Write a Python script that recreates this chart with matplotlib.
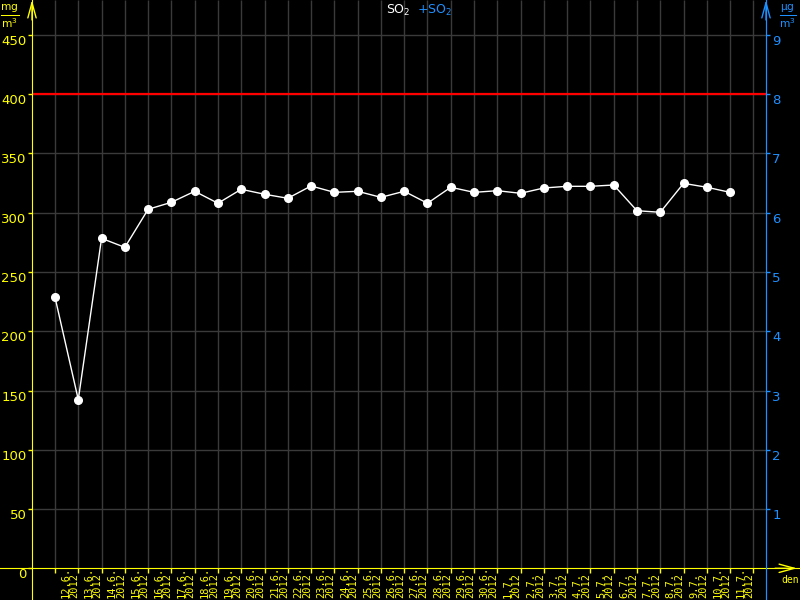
import numpy as np
import matplotlib.pyplot as plt

# data
dates = ["12.6.", "13.6.", "14.6.", "15.6.", "16.6.", "17.6.", "18.6.", "19.6.",
         "20.6.", "21.6.", "22.6.", "23.6.", "24.6.", "25.6.", "26.6.", "27.6.",
         "28.6.", "29.6.", "30.6.", "1.7.", "2.7.", "3.7.", "4.7.", "5.7.",
         "6.7.", "7.7.", "8.7.", "9.7.", "10.7.", "11.7."]
year = "2012"
so2 = [228.7, 142.3, 278.4, 270.8, 302.9, 308.8, 318.1, 308.0, 319.8, 315.6,
       312.2, 322.6, 317.2, 318.1, 313.0, 318.1, 308.0, 321.5, 317.2, 318.6,
       316.4, 320.9, 322.3, 322.3, 323.4, 301.7, 300.4, 324.8, 321.5, 317.2]
limit = 400
left_ticks = list(range(0, 451, 50))
right_ticks = list(range(1, 10))

YEL = "#ffff00"
BLUE = "#1e90ff"
GRID = "#3a3a3a"

# pixel -> data mapping (image 800x600)
x0, xs = 55.0, 23.28      # px of first day, px per day
y0, ys = 568.3, 1.1852    # px of zero, px per unit
def xd(px): return (px - x0) / xs
def yd(py): return (y0 - py) / ys

plt.rcParams["mathtext.default"] = "regular"

fig = plt.figure(figsize=(8, 6), dpi=100, facecolor="black")
ax = fig.add_axes([0, 0, 1, 1], facecolor="black")
ax.set_xlim(xd(0), xd(800))
ax.set_ylim(yd(600), yd(0))

xl, xr = xd(32), xd(766)
n = len(dates)
xi = np.arange(n)

# grid
ax.vlines(np.arange(n + 1), 0, yd(0), color=GRID, lw=1, zorder=1)
ax.hlines(left_ticks[1:], xl, xr, color=GRID, lw=1, zorder=1)

# limit line
ax.hlines(limit, xl, xr, color="#ff0000", lw=1.6, zorder=2)

# data
ax.plot(xi, so2, color="white", lw=1, marker="o", ms=5.5, zorder=3)

# spines
ax.spines["top"].set_visible(False)
ax.spines["left"].set_position(("data", xl))
ax.spines["left"].set_color(YEL)
ax.spines["bottom"].set_position(("data", 0))
ax.spines["bottom"].set_color(YEL)
ax.spines["right"].set_position(("data", xr))
ax.spines["right"].set_color(BLUE)

ax.set_xticks(np.arange(n + 1))
ax.set_xticklabels([])
ax.tick_params(axis="x", colors=YEL, direction="out", length=3.5, width=1)
ax.set_yticks(left_ticks)
ax.set_yticklabels([str(v) for v in left_ticks], fontsize=9.5)
ax.tick_params(axis="y", colors=YEL, direction="out", length=3, width=1, pad=1,
               right=False)
for t in ax.get_yticklabels():
    t.set_verticalalignment("top")

ax2 = ax.twinx()
ax2.set_ylim(yd(600) / 50, yd(0) / 50)
for s in ["top", "left", "bottom"]:
    ax2.spines[s].set_visible(False)
ax2.spines["right"].set_position(("data", xr))
ax2.spines["right"].set_color(BLUE)
ax2.set_yticks(right_ticks)
ax2.set_yticklabels([str(v) for v in right_ticks], fontsize=9.5)
ax2.tick_params(axis="y", colors=BLUE, direction="out", length=3, width=1, pad=1.5)
for t in ax2.get_yticklabels():
    t.set_verticalalignment("top")

# date labels
for i, d in enumerate(dates):
    ax.text(i + 0.64, yd(598.5), d + "\n" + year, rotation=90, ha="center",
            va="bottom", multialignment="left", fontsize=7.5, color=YEL,
            family="DejaVu Sans Mono", linespacing=0.85)

# arrows
ap = dict(arrowstyle="->,head_length=1.1,head_width=0.3", lw=1, shrinkA=0, shrinkB=0)
ax.annotate("", xy=(xl, yd(0)), xytext=(xl, yd(20)),
            arrowprops=dict(ap, color=YEL))
ax.annotate("", xy=(xr, yd(0)), xytext=(xr, yd(20)),
            arrowprops=dict(ap, color=BLUE))
ax.annotate("", xy=(xd(797), 0), xytext=(xd(775), 0),
            arrowprops=dict(ap, color=YEL))
ax.text(xd(790), yd(580), "den", color=YEL, fontsize=7, ha="center", va="center",
        family="DejaVu Sans Mono")

# units and title
fig.text(10 / 800, 1 - 3 / 600, r"$\frac{mg}{m^3}$", color=YEL, fontsize=11,
         ha="center", va="top")
fig.text(788 / 800, 1 - 3 / 600, r"$\frac{\mu g}{m^3}$", color=BLUE, fontsize=11,
         ha="center", va="top")
fig.text(398 / 800, 1 - 10 / 600, r"SO$_2$", color="white", fontsize=9,
         ha="center", va="center")
fig.text(434 / 800, 1 - 10 / 600, r"+SO$_2$", color=BLUE, fontsize=9,
         ha="center", va="center")

fig.savefig("out.png", dpi=100, facecolor="black")
